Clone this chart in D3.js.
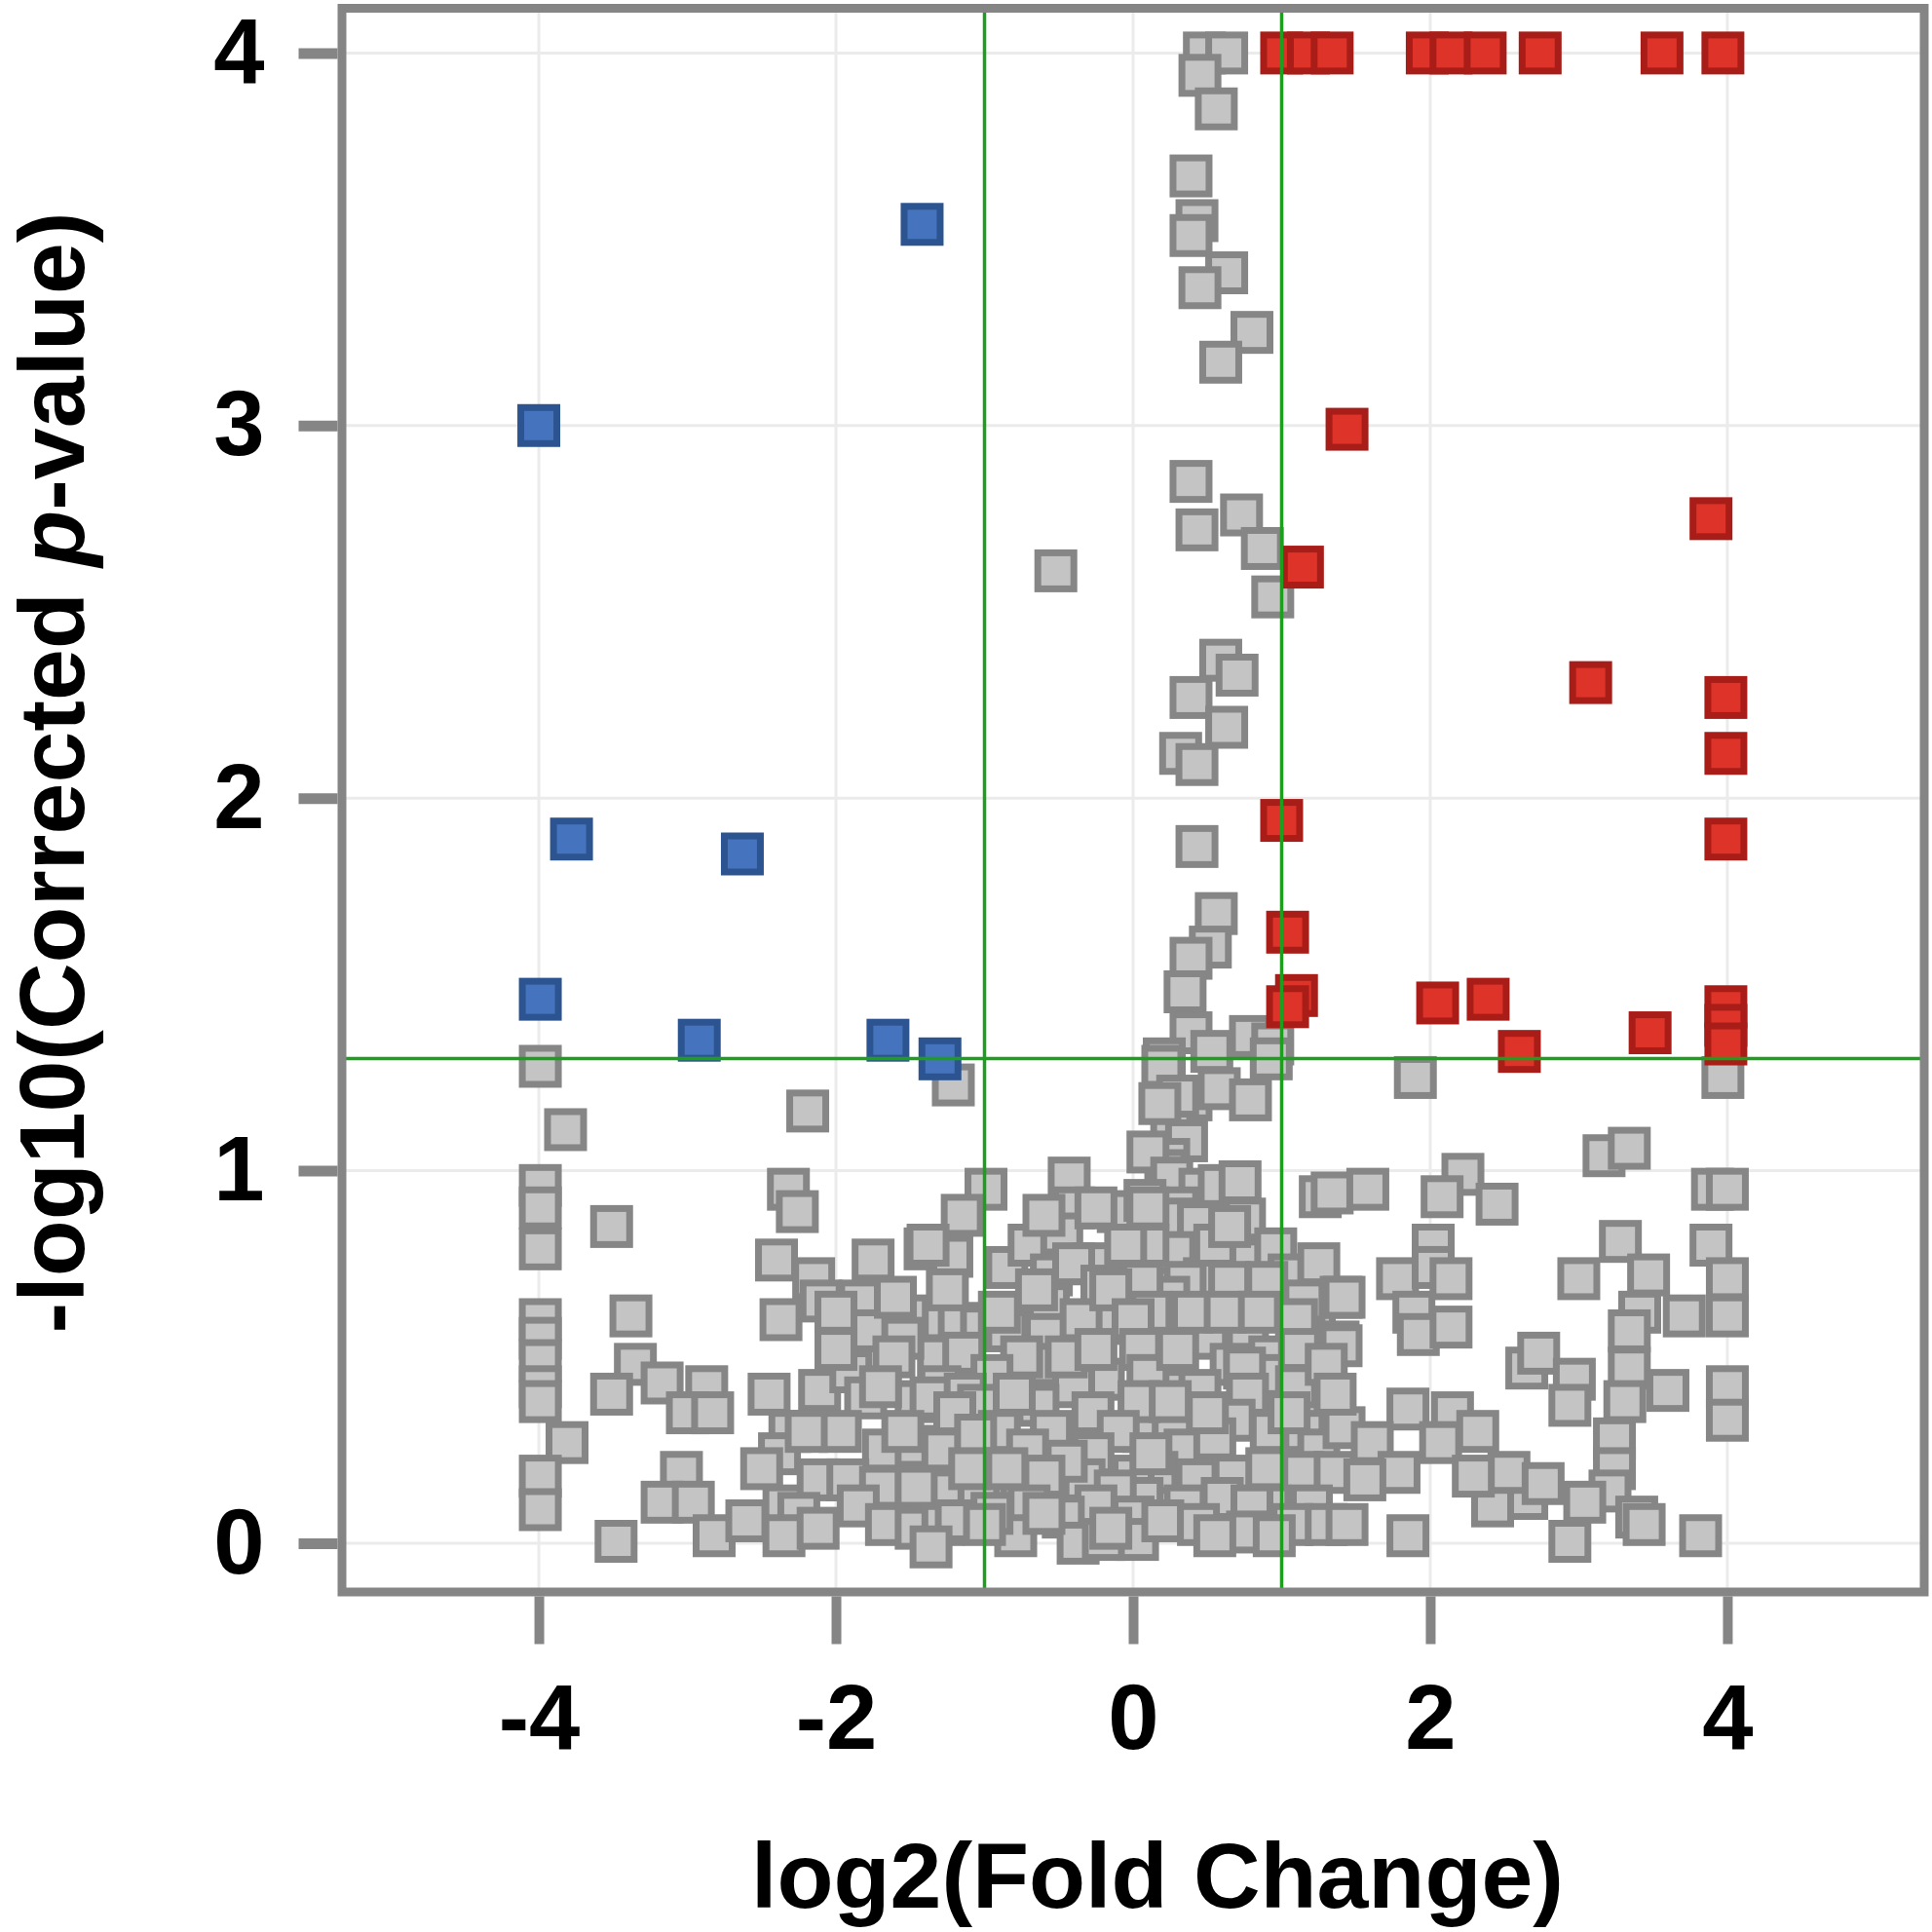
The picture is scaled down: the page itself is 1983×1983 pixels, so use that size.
<!DOCTYPE html>
<html>
<head>
<meta charset="utf-8">
<script src="https://cdn.jsdelivr.net/npm/d3@7/dist/d3.min.js"></script>
<style>
  html, body { margin: 0; padding: 0; background: #fff; }
  svg { display: block; }
  text { font-family: "Liberation Sans", Arial, Helvetica, sans-serif; font-weight: bold; fill: #000; }
</style>
</head>
<body>
<svg id="chart" width="1983" height="1983"></svg>
<script>
// ---------------- DATA ----------------
const xTicks = [-4, -2, 0, 2, 4];
const yTicks = [0, 1, 2, 3, 4];
const xTickLabels = ["-4", "-2", "0", "2", "4"];
const yTickLabels = ["0", "1", "2", "3", "4"];
const foldThresholds = [-1, 1];
const pThreshold = 1.301;

// not significant (gray)  [log2FC, -log10 p]
const nsPoints = [
  // upper central column
  [0.48,4.0],[0.63,4.0],[0.45,3.94],[0.56,3.85],
  [0.39,3.67],[0.43,3.55],[0.39,3.51],[0.63,3.41],[0.45,3.37],[0.80,3.25],[0.59,3.17],
  [0.39,2.85],[0.73,2.76],[0.43,2.72],[0.87,2.67],[0.94,2.54],[-0.52,2.61],
  [0.59,2.37],[0.70,2.33],[0.39,2.27],[0.63,2.19],[0.32,2.12],[0.43,2.09],
  [0.43,1.87],[0.56,1.69],[0.52,1.60],[0.39,1.57],[0.35,1.48],
  [0.39,1.37],[0.79,1.36],[0.94,1.34],[0.21,1.30],[0.53,1.32],
  // around 1.0 - 1.3
  [0.20,1.28],[0.39,1.19],[0.58,1.22],[0.79,1.19],[0.93,1.30],[0.26,1.11],[0.36,1.08],[0.30,1.20],
  [0.24,1.03],[0.18,1.18],[0.22,1.00],[0.28,0.94],[0.10,1.05],
  [1.90,1.25],[-1.21,1.23],[-3.99,1.28],[-3.82,1.11],[-2.19,1.16],[3.97,1.25],
  // 0.9 - 1.06
  [-0.43,0.98],[0.26,0.98],[0.45,0.95],[0.58,0.96],[0.72,0.97],[-0.99,0.95],[1.26,0.93],
  [3.17,1.04],[3.34,1.06],[3.90,0.95],[4.0,0.95],[1.34,0.94],[1.58,0.95],[2.22,0.99],[2.08,0.93],[2.45,0.91],
  [-3.99,0.96],[-3.99,0.90],[-3.99,0.79],[-3.51,0.85],[-2.32,0.95],[-2.26,0.89],
  // 0.7 - 0.9
  [-0.40,0.90],[-0.10,0.89],[0.30,0.90],[0.31,0.87],[0.44,0.86],[0.75,0.87],[-1.15,0.88],[-1.40,0.79],
  [-1.22,0.77],[-0.85,0.74],[-0.70,0.80],[-0.48,0.83],[-0.27,0.75],[0.28,0.78],[0.48,0.71],[0.79,0.76],[0.96,0.79],
  [0.08,0.92],[0.10,0.80],[0.55,0.80],[-0.05,0.80],[-0.55,0.72],[1.05,0.72],[1.25,0.75],
  [0.10,0.90],[-0.25,0.90],[0.65,0.85],[-0.60,0.88],[-0.40,0.75],[0.35,0.70],[0.65,0.70],
  [-2.40,0.76],[-2.15,0.71],[-1.75,0.76],[-1.38,0.80],
  [2.02,0.80],[1.78,0.71],[2.02,0.74],[2.14,0.71],[3.0,0.71],[3.28,0.81],[3.47,0.72],[3.89,0.80],[4.0,0.71],
  // 0.55 - 0.7
  [-0.21,0.69],[0.24,0.66],[1.22,0.63],[1.40,0.66],[-1.40,0.60],[-1.17,0.59],[-1.02,0.58],[-0.85,0.57],
  [-0.57,0.64],[-0.59,0.56],[-0.22,0.59],[0.16,0.58],[0.50,0.55],[0.77,0.56],[0.98,0.64],[1.38,0.54],
  [0.06,0.70],[0.12,0.62],[-0.35,0.60],[0.40,0.62],[0.62,0.62],[1.15,0.65],[1.10,0.60],[0.90,0.70],
  [-0.90,0.62],[-0.65,0.68],[-0.15,0.68],[0.0,0.60],[0.85,0.62],[-1.25,0.68],
  [-2.10,0.65],[-1.84,0.65],[-2.37,0.60],[-1.52,0.61],[-1.76,0.57],[-3.38,0.61],[-2.0,0.62],[-1.60,0.66],
  [1.42,0.66],[1.89,0.62],[1.92,0.56],[2.14,0.58],[1.40,0.53],[4.0,0.61],[3.71,0.61],[3.41,0.62],[3.34,0.57],
  [-3.99,0.60],[-3.99,0.55],
  // 0.4 - 0.55
  [-1.31,0.50],[-1.14,0.51],[-0.59,0.48],[-0.20,0.44],[0.18,0.49],[0.66,0.48],[0.21,0.41],[0.45,0.41],[1.26,0.38],
  [0.05,0.52],[0.10,0.45],[0.92,0.50],[0.88,0.45],[-0.75,0.50],[-0.95,0.45],[-0.40,0.42],[1.20,0.45],[1.12,0.52],[1.10,0.42],
  [-0.45,0.50],[-0.25,0.52],[0.30,0.52],[0.75,0.47],[1.30,0.48],[-1.55,0.55],[-1.30,0.42],
  [-3.35,0.48],[-3.51,0.40],[-3.17,0.43],[-2.87,0.42],[-3.99,0.49],[-3.99,0.42],
  [-2.11,0.41],[-1.90,0.46],[-1.80,0.39],[-1.61,0.50],[-1.46,0.38],[-2.0,0.52],[-1.70,0.42],[-2.45,0.40],
  [3.34,0.47],[3.60,0.41],[4.0,0.42],[2.65,0.47],[2.73,0.51],[2.97,0.44],
  // 0.25 - 0.4
  [-1.36,0.39],[-1.13,0.40],[-1.04,0.37],[-0.64,0.37],[-0.27,0.35],[0.07,0.30],[0.77,0.40],[0.68,0.33],[0.27,0.30],
  [0.04,0.38],[0.93,0.30],[-0.80,0.40],[-0.90,0.30],[-0.55,0.30],[-0.10,0.30],[0.35,0.25],[0.55,0.28],[1.15,0.30],
  [0.25,0.38],[0.50,0.35],[-1.20,0.35],[1.05,0.35],[1.25,0.25],
  [-3.0,0.35],[-2.83,0.35],[-3.81,0.27],[-3.99,0.38],
  [-2.31,0.30],[-1.97,0.30],[-1.68,0.25],[-1.46,0.26],[-2.38,0.24],[-2.20,0.30],[-1.55,0.30],
  [-1.28,0.25],[-1.06,0.29],[-0.71,0.25],[-0.27,0.24],
  [3.31,0.38],[2.94,0.37],[4.0,0.33],[3.24,0.28],[1.85,0.36],[2.15,0.35],[2.32,0.30],[2.07,0.27],[1.42,0.31],[1.36,0.40],[1.61,0.27],
  // 0.1 - 0.25
  [0.16,0.19],[0.43,0.17],[0.68,0.18],[1.14,0.19],[1.36,0.19],[-0.51,0.15],[-0.33,0.17],[-1.04,0.13],[-1.28,0.14],
  [-0.75,0.15],[0.0,0.18],[0.12,0.24],[0.06,0.12],[0.90,0.20],[0.92,0.10],[-0.45,0.22],[-0.12,0.14],[0.60,0.12],
  [0.35,0.10],[-1.10,0.20],[1.20,0.10],[-0.85,0.20],[-0.60,0.18],[-0.25,0.10],[0.80,0.10],[-0.70,0.10],
  [-3.99,0.18],[-3.04,0.19],[-3.17,0.11],[-2.96,0.11],[-2.50,0.20],[-2.35,0.10],[-2.12,0.17],[-1.92,0.17],[-1.70,0.15],[-1.46,0.15],
  [-1.85,0.10],[-2.25,0.08],
  [3.24,0.20],[3.21,0.14],[3.04,0.11],[2.65,0.12],[2.42,0.10],[2.53,0.19],[2.76,0.16],[2.29,0.18],[1.79,0.19],[1.56,0.17],
  // 0 - 0.1
  [-3.99,0.09],[-3.48,0.005],[-2.82,0.02],[-2.60,0.06],[-2.35,0.02],[-2.12,0.04],[-1.66,0.05],[-1.46,0.04],
  [-1.28,0.05],[-1.19,0.06],[-0.79,0.02],[-0.47,0.07],[-0.37,0.0],[0.0,0.07],[0.03,0.01],[0.20,0.06],[0.44,0.05],
  [0.77,0.03],[1.07,0.05],[-0.20,0.01],[-1.36,-0.01],[-0.60,0.08],[-0.95,0.08],[-0.15,0.04],[0.55,0.02],[0.95,0.02],
  [-1.0,0.05],[1.30,0.05],
  [3.39,0.07],[3.44,0.05],[3.82,0.02],[2.94,0.005],[1.44,0.05],[1.85,0.02]
];

// significantly up-regulated (red)
const upPoints = [
  [1.0,4.0],[1.18,4.0],[1.34,4.0],[1.98,4.0],[2.14,4.0],[2.37,4.0],[2.74,4.0],[3.56,4.0],[3.97,4.0],
  [1.44,2.99],[3.89,2.75],[1.14,2.62],[3.08,2.31],[3.99,2.27],[3.99,2.12],
  [1.0,1.94],[3.99,1.89],[1.04,1.64],
  [1.10,1.47],[1.04,1.44],[2.05,1.45],[2.39,1.46],[3.99,1.44],[3.99,1.39],[3.99,1.34],[3.48,1.37],[2.6,1.32]
];

// significantly down-regulated (blue)
const downPoints = [
  [-1.42,3.54],[-4.0,3.0],[-3.78,1.89],[-2.63,1.85],[-3.99,1.46],[-2.92,1.35],[-1.65,1.35],[-1.30,1.30]
];

// ---------------- CHART ----------------
const svg = d3.select("#chart");
const plot = { left: 351, right: 1975, top: 8.5, bottom: 1634 };

const x = d3.scaleLinear().domain([-5.325, 5.325]).range([plot.left, plot.right]);
const y = d3.scaleLinear().domain([-0.131, 4.12]).range([plot.bottom, plot.top]);

const grid = "#ebebeb", axisGray = "#858585";

// gridlines
svg.append("g").selectAll("line").data(xTicks).join("line")
  .attr("x1", d => x(d)).attr("x2", d => x(d))
  .attr("y1", plot.top).attr("y2", plot.bottom)
  .attr("stroke", grid).attr("stroke-width", 3);
svg.append("g").selectAll("line").data(yTicks).join("line")
  .attr("y1", d => y(d)).attr("y2", d => y(d))
  .attr("x1", plot.left).attr("x2", plot.right)
  .attr("stroke", grid).attr("stroke-width", 3);

// points
const markOuter = 44, strokeW = 7, side = markOuter - strokeW;
function drawSquares(data, fill, stroke) {
  svg.append("g").selectAll("rect").data(data).join("rect")
    .attr("x", d => x(d[0]) - side / 2)
    .attr("y", d => y(d[1]) - side / 2)
    .attr("width", side).attr("height", side)
    .attr("fill", fill).attr("stroke", stroke).attr("stroke-width", strokeW);
}
drawSquares(nsPoints, "#c4c4c4", "#868686");
drawSquares(downPoints, "#4673bd", "#2c5490");
drawSquares(upPoints, "#de3328", "#a81d18");

// threshold lines
const green = "#1e9e1e";
svg.append("g").selectAll("line").data(foldThresholds).join("line")
  .attr("x1", d => x(d)).attr("x2", d => x(d))
  .attr("y1", plot.top).attr("y2", plot.bottom)
  .attr("stroke", green).attr("stroke-width", 3.5);
svg.append("line")
  .attr("x1", plot.left).attr("x2", plot.right)
  .attr("y1", y(pThreshold)).attr("y2", y(pThreshold))
  .attr("stroke", green).attr("stroke-width", 3.5);

// border
svg.append("rect")
  .attr("x", plot.left).attr("y", plot.top)
  .attr("width", plot.right - plot.left).attr("height", plot.bottom - plot.top)
  .attr("fill", "none").attr("stroke", axisGray).attr("stroke-width", 9);

// axes
const yAxis = d3.axisLeft(y).tickValues(yTicks).tickSize(40).tickPadding(35)
  .tickFormat((d, i) => yTickLabels[i]);
const gy = svg.append("g").attr("transform", `translate(${plot.left - 4.5},0)`).call(yAxis);
gy.select(".domain").remove();
gy.selectAll(".tick line").attr("stroke", axisGray).attr("stroke-width", 11);
gy.selectAll(".tick text").style("font-size", "94px").attr("fill", "#000");

const xAxis = d3.axisBottom(x).tickValues(xTicks).tickSize(49).tickPadding(41)
  .tickFormat((d, i) => xTickLabels[i]);
const gx = svg.append("g").attr("transform", `translate(0,${plot.bottom + 4.5})`).call(xAxis);
gx.select(".domain").remove();
gx.selectAll(".tick line").attr("stroke", axisGray).attr("stroke-width", 10);
gx.selectAll(".tick text").style("font-size", "94px").attr("fill", "#000");

// titles
svg.append("text")
  .attr("x", 1188).attr("y", 1958)
  .attr("text-anchor", "middle")
  .style("font-size", "95px")
  .text("log2(Fold Change)");

const yt = svg.append("text")
  .attr("transform", "translate(86,793) rotate(-90)")
  .attr("text-anchor", "middle")
  .style("font-size", "95px");
yt.append("tspan").text("-log10(Corrected ");
yt.append("tspan").style("font-style", "italic").text("p");
yt.append("tspan").text("-value)");
</script>
</body>
</html>
